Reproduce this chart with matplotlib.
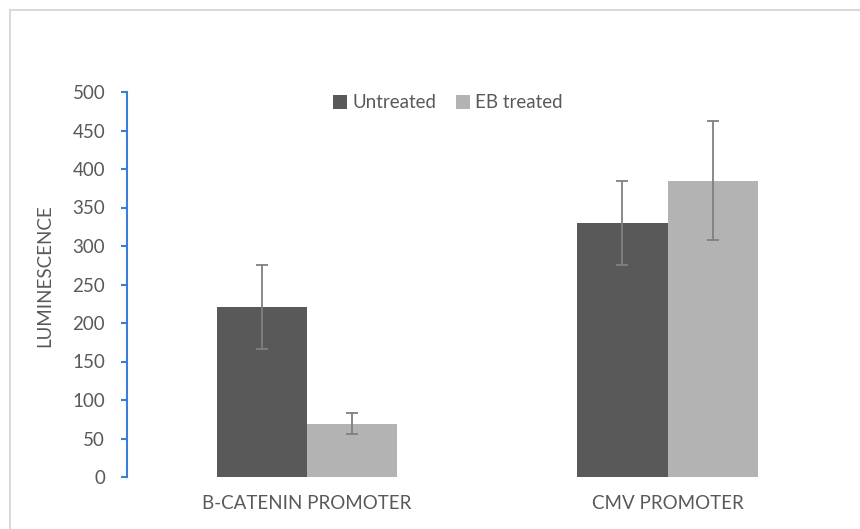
import matplotlib.pyplot as plt
from matplotlib.lines import Line2D
import numpy as np

plt.rcParams['font.family'] = ['Lato', 'DejaVu Sans']

# data
categories = ["B-CATENIN PROMOTER", "CMV PROMOTER"]
series = ["Untreated", "EB treated"]
untreated = [221, 330]
untreated_err = [54.5, 55]
eb_treated = [69, 385]
eb_err = [13.6, 77]
yticks = [0, 50, 100, 150, 200, 250, 300, 350, 400, 450, 500]

dark = "#595959"
light = "#b3b3b3"
errc = "#808080"
textc = "#595959"
blue = "#3a7fd5"
fs = 13.5

fig = plt.figure(figsize=(8.6, 5.29), dpi=100)
ax = fig.add_axes([126.75 / 860, 1 - 477 / 529, 721 / 860, 385 / 529])

x = np.arange(len(categories))
w = 0.25
ekw = dict(ecolor=errc, elinewidth=1.3, capsize=4, capthick=1.3)
ax.bar(x - w / 2, untreated, w, color=dark, label=series[0],
       yerr=untreated_err, error_kw=ekw, zorder=2)
ax.bar(x + w / 2, eb_treated, w, color=light, label=series[1],
       yerr=eb_err, error_kw=ekw, zorder=2)

ax.set_xlim(-0.5, 1.5)
ax.set_ylim(0, 500)
ax.set_yticks(yticks)
ax.set_xticks(x)
ax.set_xticklabels(categories)

for s in ["top", "right", "bottom"]:
    ax.spines[s].set_visible(False)
ax.spines["left"].set_color(blue)
ax.spines["left"].set_linewidth(1.5)

ax.tick_params(axis="y", direction="out", length=4.5, width=1.5, color=blue,
               labelcolor=textc, labelsize=fs, pad=11)
ax.tick_params(axis="x", length=0, labelcolor=textc, labelsize=fs, pad=13)

fig.text(45 / 860, 1 - 276 / 529, "LUMINESCENCE", rotation=90, ha="center",
         va="center", color=textc, fontsize=fs)

leg = ax.legend(loc="center", bbox_to_anchor=(448 / 860, 1 - 103 / 529),
                bbox_transform=fig.transFigure, ncol=2, frameon=False,
                fontsize=fs, handlelength=0.75, handleheight=0.75,
                handletextpad=0.3, columnspacing=1.0, labelcolor=textc)

# chart border (top and left visible)
bc = "#d9d9d9"
fig.add_artist(Line2D([10 / 860, 1.0], [1 - 10 / 529, 1 - 10 / 529], color=bc, lw=1.5))
fig.add_artist(Line2D([10 / 860, 10 / 860], [0.0, 1 - 10 / 529], color=bc, lw=1.5))

fig.savefig("out.png", dpi=100)
